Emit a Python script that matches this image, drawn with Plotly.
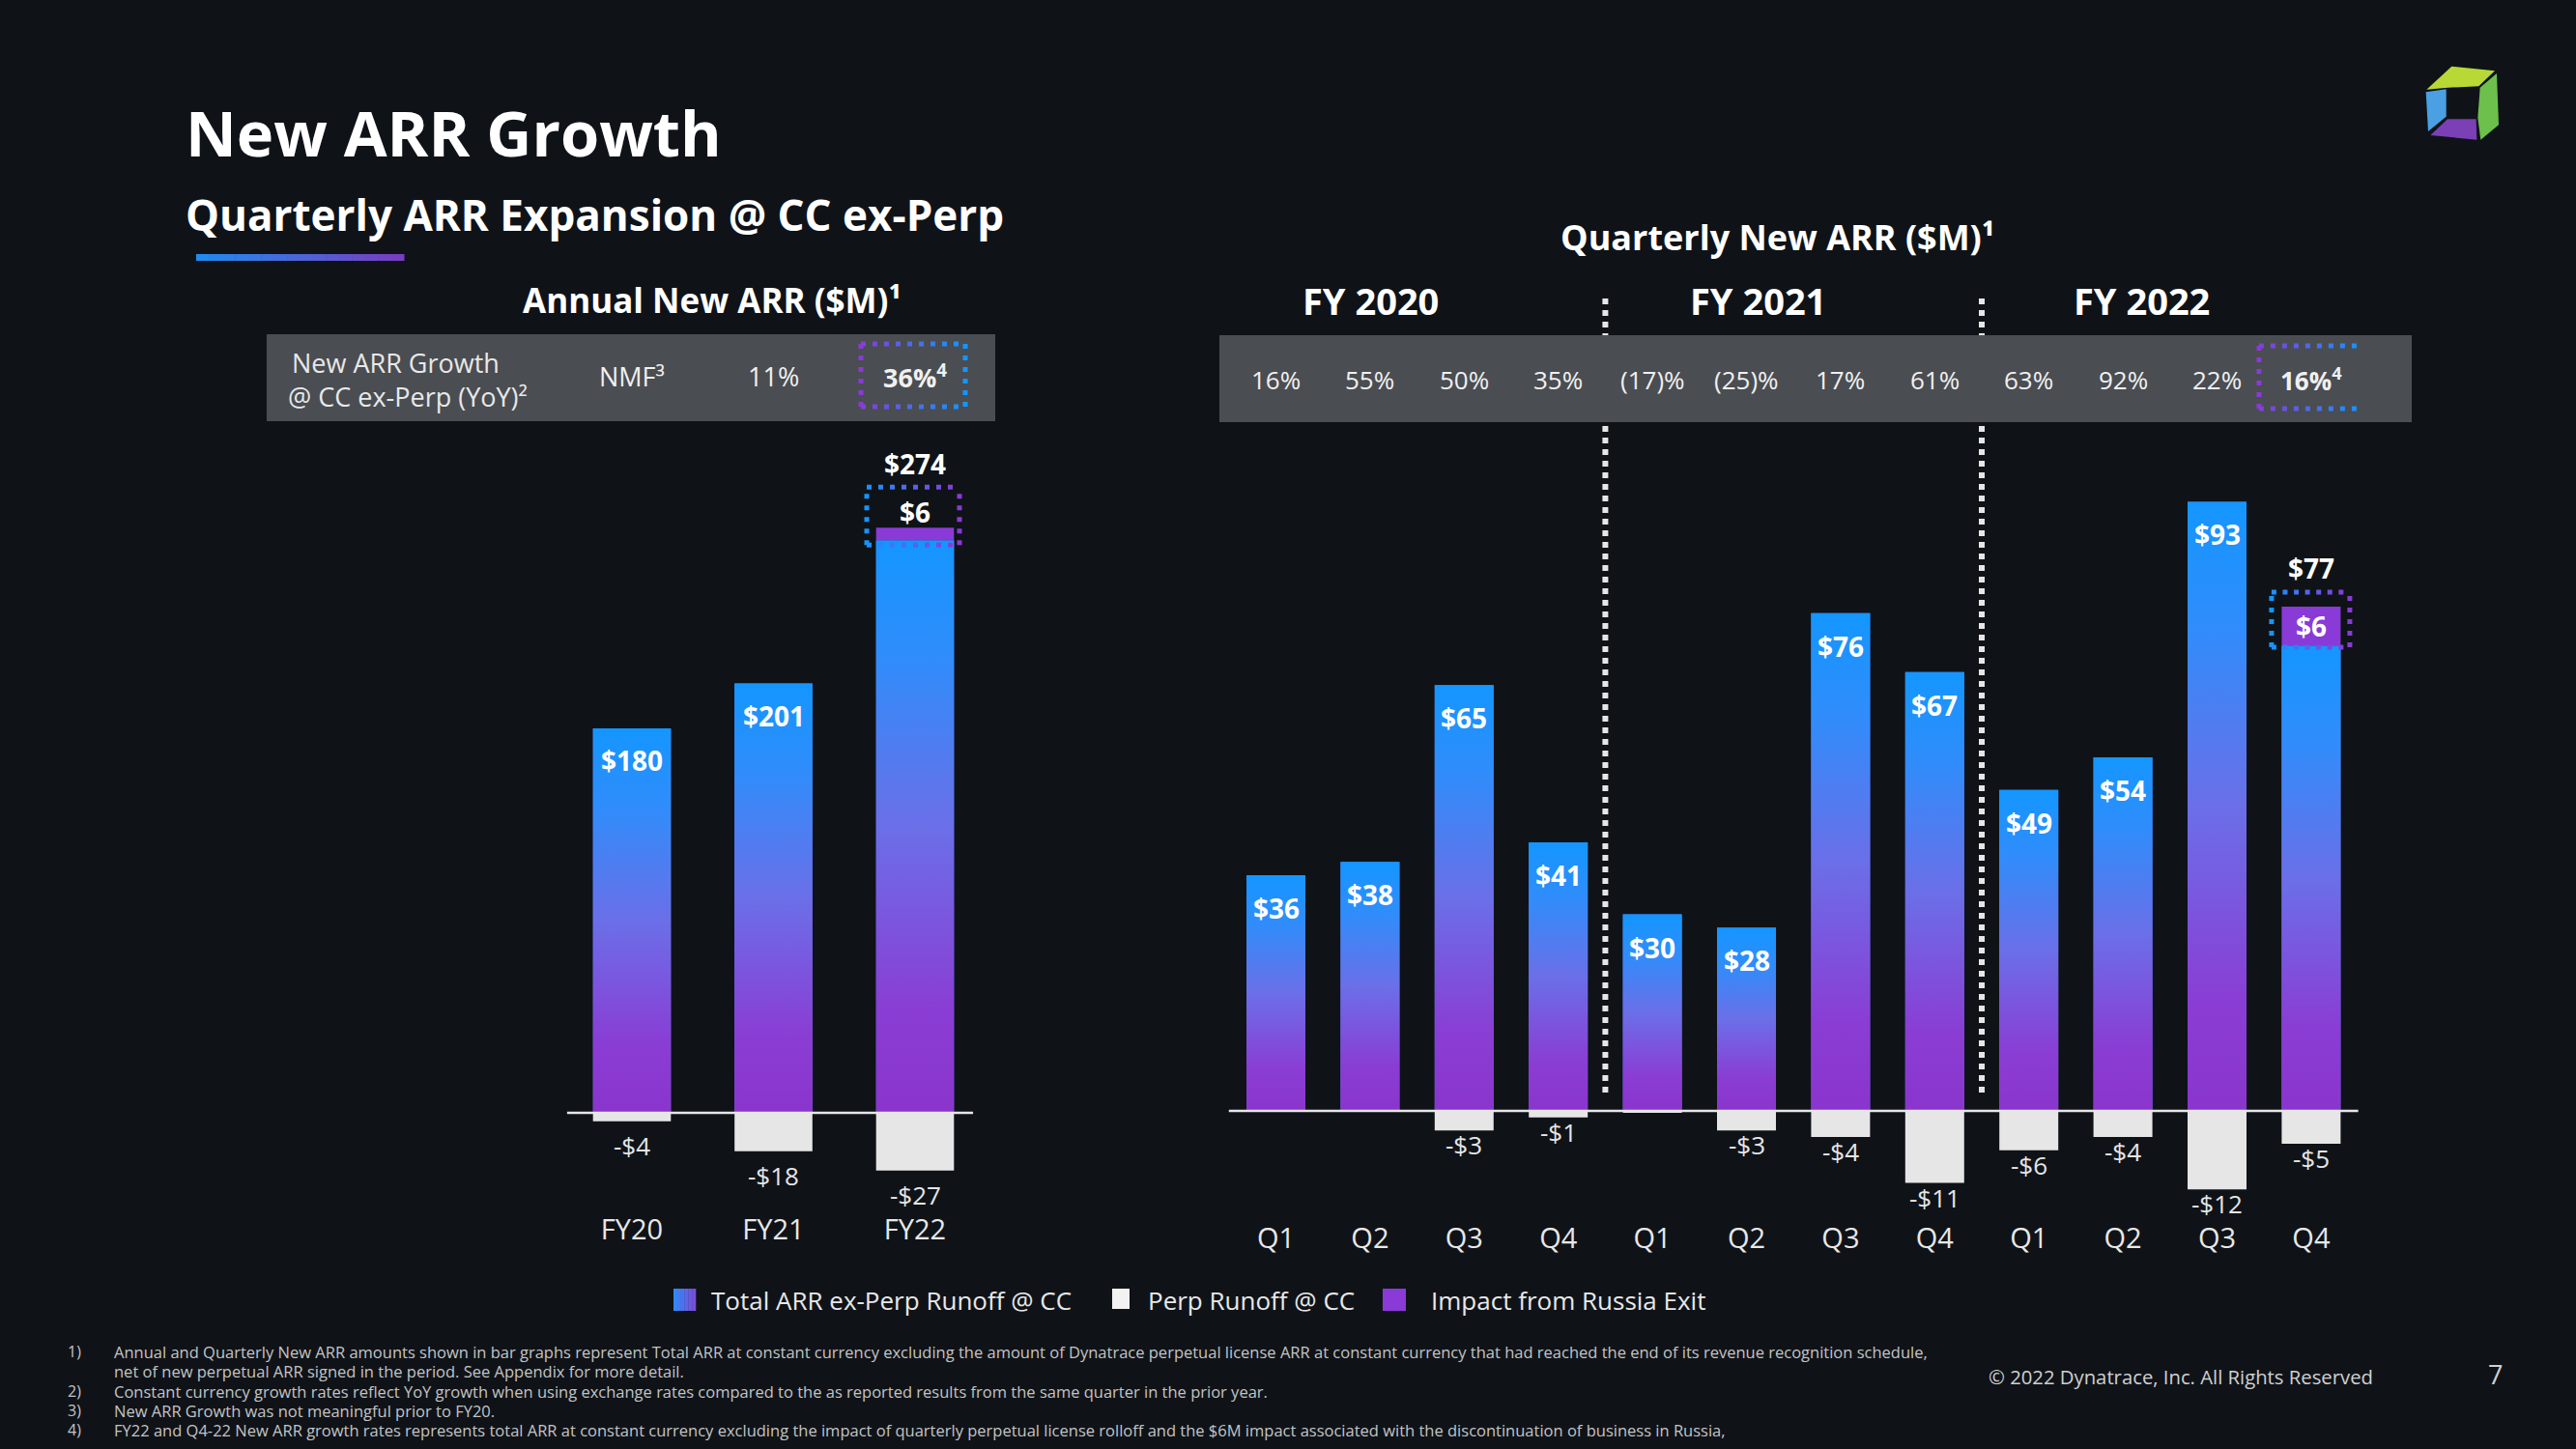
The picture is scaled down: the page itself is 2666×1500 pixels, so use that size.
import plotly.graph_objects as go

# ---------------- data ----------------
annual_years = ["FY20", "FY21", "FY22"]
annual_ex_perp = [180, 201, 268]
annual_russia = [0, 0, 6]
annual_perp = [-4, -18, -27]
annual_growth = ["NMF³", "11%", "<b>36%<sup>4</sup></b>"]

quarters = ["Q1", "Q2", "Q3", "Q4", "Q1", "Q2", "Q3", "Q4", "Q1", "Q2", "Q3", "Q4"]
fiscal_years = ["FY 2020", "FY 2021", "FY 2022"]
q_ex_perp = [36, 38, 65, 41, 30, 28, 76, 67, 49, 54, 93, 71]
q_russia = [0, 0, 0, 0, 0, 0, 0, 0, 0, 0, 0, 6]
q_perp = [0, 0, -3, -1, -0.3, -3, -4, -11, -6, -4, -12, -5]
q_growth = ["16%", "55%", "50%", "35%", "(17)%", "(25)%", "17%", "61%",
            "63%", "92%", "22%", "<b>16%<sup>4</sup></b>"]

legend_names = ["Total ARR ex-Perp Runoff @ CC", "Perp Runoff @ CC", "Impact from Russia Exit"]

footnotes = [
    ("1)", "Annual and Quarterly New ARR amounts shown in bar graphs represent Total ARR at constant currency excluding the amount of Dynatrace perpetual license ARR at constant currency that had reached the end of its revenue recognition schedule,"),
    ("", "net of new perpetual ARR signed in the period. See Appendix for more detail."),
    ("2)", "Constant currency growth rates reflect YoY growth when using exchange rates compared to the as reported results from the same quarter in the prior year."),
    ("3)", "New ARR Growth was not meaningful prior to FY20."),
    ("4)", "FY22 and Q4-22 New ARR growth rates represents total ARR at constant currency excluding the impact of quarterly perpetual license rolloff and the $6M impact associated with the discontinuation of business in Russia,"),
]

# ---------------- style ----------------
W, H = 2666, 1500
BG = "#0f1318"
BLUE = "#1496ff"
PURPLE = "#8a3ad6"
NEG = "#e6e6e6"
TXT = "#ffffff"
SOFT = "#e8e8e8"
BAND = "#4a4d52"
FONT = "Open Sans"
GRAD = [[0, "#8a35cd"], [0.18, "#8a3dd4"], [0.5, "#6b6fe8"], [0.8, "#2f8dfb"], [1, "#1496ff"]]


def px(x):
    return x / W


def py(y):
    return 1 - y / H


def hex2rgb(c):
    c = c.lstrip("#")
    return [int(c[i:i + 2], 16) for i in (0, 2, 4)]


def lerp(c1, c2, t):
    a, b = hex2rgb(c1), hex2rgb(c2)
    return "rgb(%d,%d,%d)" % tuple(round(a[i] + (b[i] - a[i]) * t) for i in range(3))


# geometry (pixels)
L_BASE, L_K, L_RANGE = 1152, 2.211, [-40, 300]
R_BASE, R_K, R_RANGE = 1150, 6.78, [-15, 100]
L_C0, L_STEP = 654, 146.5
R_C0, R_STEP = 1320.5, 97.4
L_W, R_W = 0.55, 0.626


def ydom(base, k, rng):
    return [py(base - rng[0] * k), py(base - rng[1] * k)]


def xdom(c0, step, n):
    left = c0 - step / 2
    return [px(left), px(left + n * step)]


fig = go.Figure()
annotations = []
shapes = []


def ann(x, y, text, size, color=TXT, xref="paper", yref="paper", xanchor="center",
        yanchor="middle", yshift=0, family=FONT, align="center"):
    annotations.append(dict(x=x, y=y, xref=xref, yref=yref, text=text, showarrow=False,
                            font=dict(family=family, size=size, color=color),
                            xanchor=xanchor, yanchor=yanchor, yshift=yshift, align=align))


def add_chart(xa, ya, cats, ex, rus, perp, width, inside_shift, neg_shift):
    xs = list(range(len(cats)))
    fig.add_trace(go.Bar(x=xs, y=ex, width=width, marker=dict(color="#5a78ee", line=dict(width=0)),
                         xaxis=xa, yaxis=ya, name=legend_names[0], showlegend=False, hoverinfo="skip"))
    fig.add_trace(go.Bar(x=xs, y=rus, width=width, marker=dict(color=PURPLE, line=dict(width=0)),
                         xaxis=xa, yaxis=ya, name=legend_names[2], showlegend=False, hoverinfo="skip"))
    fig.add_trace(go.Bar(x=xs, y=perp, width=width, marker=dict(color=NEG, line=dict(width=0)),
                         xaxis=xa, yaxis=ya, name=legend_names[1], showlegend=False, hoverinfo="skip"))
    for i, v in enumerate(ex):
        fig.add_trace(go.Scatter(
            x=[i - width / 2, i + width / 2, i + width / 2, i - width / 2, i - width / 2],
            y=[0, 0, v, v, 0], mode="lines", line=dict(width=0), fill="toself",
            fillgradient=dict(type="vertical", colorscale=GRAD),
            xaxis=xa, yaxis=ya, showlegend=False, hoverinfo="skip"))
    xr = "x" if xa == "x" else "x2"
    yr = "y" if ya == "y" else "y2"
    for i, v in enumerate(ex):
        if rus[i] == 0:
            ann(i, v, "<b>$%d</b>" % v, 28, xref=xr, yref=yr, yshift=inside_shift)
    for i, v in enumerate(perp):
        if abs(v) >= 1:
            ann(i, v, "-$%d" % abs(v), 26, color=NEG, xref=xr, yref=yr, yshift=neg_shift)


add_chart("x", "y", annual_years, annual_ex_perp, annual_russia, annual_perp, L_W, -33, -25)
add_chart("x2", "y2", quarters, q_ex_perp, q_russia, q_perp, R_W, -34, -15)

# totals and Russia labels
for i, r in enumerate(annual_russia):
    if r:
        tot = annual_ex_perp[i] + r
        ann(i, tot, "<b>$%d</b>" % tot, 28, xref="x", yref="y", yshift=66)
        ann(i, tot, "<b>$%d</b>" % r, 28, xref="x", yref="y", yshift=16)
for i, r in enumerate(q_russia):
    if r:
        tot = q_ex_perp[i] + r
        ann(i, tot, "<b>$%d</b>" % tot, 28, xref="x2", yref="y2", yshift=40)
        ann(i, q_ex_perp[i] + r / 2, "<b>$%d</b>" % r, 28, xref="x2", yref="y2")

# baselines
shapes.append(dict(type="line", xref="x domain", yref="y", x0=0.014, x1=0.97, y0=0, y1=0,
                   line=dict(color="#e6e6e6", width=2.5), layer="above"))
shapes.append(dict(type="line", xref="x2 domain", yref="y2", x0=0, x1=1, y0=0, y1=0,
                   line=dict(color="#e6e6e6", width=2.5), layer="above"))

# fiscal-year dividers
for xd in (3.5, 7.5):
    shapes.append(dict(type="line", xref="x2", yref="paper", x0=xd, x1=xd, y0=py(1131), y1=py(303),
                       line=dict(color="#e6e6e6", width=6, dash="6px,6px"), layer="below"))

# growth bands
shapes.append(dict(type="rect", xref="paper", yref="paper", x0=px(276), x1=px(1030), y0=py(436), y1=py(346),
                   fillcolor=BAND, line=dict(width=0), layer="below"))
shapes.append(dict(type="rect", xref="paper", yref="paper", x0=px(1262), x1=px(2496), y0=py(437), y1=py(347),
                   fillcolor=BAND, line=dict(width=0), layer="below"))


def dotted_box(xref, xc, dx0, dx1, yref, y0, y1, c_left, c_right, yanchor=None, width=5):
    common = dict(type="line", xref=xref, xsizemode="pixel", xanchor=xc, yref=yref, layer="above")
    if yanchor is not None:
        common.update(ysizemode="pixel", yanchor=yanchor)
    dash = "5px,7px"
    shapes.append(dict(common, x0=dx0, x1=dx0, y0=y0, y1=y1, line=dict(color=c_left, width=width, dash=dash)))
    shapes.append(dict(common, x0=dx1, x1=dx1, y0=y0, y1=y1, line=dict(color=c_right, width=width, dash=dash)))
    n = max(1, round((dx1 - dx0) / 12))
    for k in range(n):
        a = dx0 + (dx1 - dx0) * k / n
        b = dx0 + (dx1 - dx0) * (k + 1) / n
        col = lerp(c_left, c_right, (k + 0.5) / n)
        for yy in (y0, y1):
            shapes.append(dict(common, x0=a, x1=b, y0=yy, y1=yy, line=dict(color=col, width=width, dash=dash)))


# highlight boxes
dotted_box("x", 2, -56, 52, "paper", py(421), py(356), PURPLE, BLUE)
dotted_box("x2", 11, -54, 54, "paper", py(423), py(358), PURPLE, BLUE)
dotted_box("x", 2, -50, 46, "y", -18, 42, BLUE, PURPLE, yanchor=annual_ex_perp[2] + annual_russia[2])
dotted_box("x2", 11, -41, 40, "y2", -42, 15, BLUE, PURPLE, yanchor=q_ex_perp[11] + q_russia[11])

# band texts
ann(px(300), py(375), "New ARR Growth", 27, color=SOFT, xanchor="left")
ann(px(296), py(410), "@ CC ex-Perp (YoY)²", 27, color=SOFT, xanchor="left")
for i, g in enumerate(annual_growth):
    ann(i, py(389), g, 27, color="#f0f0f0", xref="x")
for i, g in enumerate(q_growth):
    ann(i, py(393), g, 26, color="#f0f0f0", xref="x2")

# headings
ann(px(190), py(137), "<b>New ARR Growth</b>", 65, xanchor="left")
ann(px(190), py(222), "<b>Quarterly ARR Expansion @ CC ex-Perp</b>", 44, xanchor="left")
ann(px(737), py(310), "<b>Annual New ARR ($M)¹</b>", 35)
ann(px(1839), py(245), "<b>Quarterly New ARR ($M)¹</b>", 36)
for xpos, fy in zip((1.01, 5.12, 9.2), fiscal_years):
    ann(xpos, py(311), "<b>%s</b>" % fy, 38, xref="x2")

# gradient underline under subtitle
nu = 16
for k in range(nu):
    x0 = 203 + (418 - 203) * k / nu
    x1 = 203 + (418 - 203) * (k + 1) / nu + 0.5
    shapes.append(dict(type="rect", xref="paper", yref="paper", x0=px(x0), x1=px(x1), y0=py(270), y1=py(263),
                       fillcolor=lerp("#1e8cf0", "#7a3cc0", (k + 0.5) / nu), line=dict(width=0), layer="above"))

# legend
nl = 6
for k in range(nl):
    x0 = 697 + 23 * k / nl
    x1 = 697 + 23 * (k + 1) / nl + 0.3
    shapes.append(dict(type="rect", xref="paper", yref="paper", x0=px(x0), x1=px(x1), y0=py(1357), y1=py(1334),
                       fillcolor=lerp("#2f8dfb", "#7c4ad8", (k + 0.5) / nl), line=dict(width=0), layer="above"))
shapes.append(dict(type="rect", xref="paper", yref="paper", x0=px(1151), x1=px(1169), y0=py(1355), y1=py(1334),
                   fillcolor="#f2f2f2", line=dict(width=0), layer="above"))
shapes.append(dict(type="rect", xref="paper", yref="paper", x0=px(1431), x1=px(1455), y0=py(1357), y1=py(1334),
                   fillcolor=PURPLE, line=dict(width=0), layer="above"))
for xl, name in zip((734, 1186, 1479), legend_names):
    ann(px(xl), py(1346), name, 26, color=SOFT, xanchor="left")

# footnotes
for (num, txt), yy in zip(footnotes, (1399, 1419, 1440, 1460, 1480)):
    if num:
        ann(px(68), py(yy), num, 16, color="#c4c4c4", xanchor="left")
    ann(px(116), py(yy), txt, 16.5, color="#c4c4c4", xanchor="left")
ann(px(2056), py(1425), "© 2022 Dynatrace, Inc. All Rights Reserved", 20.3, color="#d0d0d0", xanchor="left")
ann(px(2582), py(1422), "7", 27, color="#d0d0d0")


# logo (cube) drawn as paths
def logo_path(pts):
    coords = [(px(2450 + zx / 3), py(40 + zy / 3)) for zx, zy in pts]
    return "M " + " L ".join("%.5f,%.5f" % c for c in coords) + " Z"


logo_faces = [
    ([(184, 158), (262, 86), (396, 100), (346, 148), (250, 152)], "#b8d836"),
    ([(402, 108), (408, 268), (352, 314), (343, 246), (350, 152)], "#6cc04b"),
    ([(182, 166), (245, 157), (245, 242), (189, 288)], "#4aa0e2"),
    ([(196, 300), (249, 250), (338, 250), (340, 314)], "#7b3fb6"),
]
for pts, col in logo_faces:
    shapes.append(dict(type="path", xref="paper", yref="paper", path=logo_path(pts),
                       fillcolor=col, line=dict(width=0), layer="above"))

axis_common = dict(showgrid=False, zeroline=False, showline=False, ticks="", fixedrange=True)
fig.update_layout(
    width=W, height=H, autosize=False,
    margin=dict(l=0, r=0, t=0, b=0, pad=0),
    paper_bgcolor=BG, plot_bgcolor=BG,
    barmode="relative", showlegend=False,
    xaxis=dict(axis_common, domain=xdom(L_C0, L_STEP, 3), range=[-0.5, 2.5], anchor="y",
               tickvals=list(range(3)), ticktext=annual_years, ticklabelstandoff=13,
               tickfont=dict(family=FONT, size=29, color=SOFT)),
    yaxis=dict(axis_common, domain=ydom(L_BASE, L_K, L_RANGE), range=L_RANGE, anchor="x", visible=False),
    xaxis2=dict(axis_common, domain=xdom(R_C0, R_STEP, 12), range=[-0.5, 11.5], anchor="y2",
                tickvals=list(range(12)), ticktext=quarters, ticklabelstandoff=10,
                tickfont=dict(family=FONT, size=29, color=SOFT)),
    yaxis2=dict(axis_common, domain=ydom(R_BASE, R_K, R_RANGE), range=R_RANGE, anchor="x2", visible=False),
    annotations=annotations,
    shapes=shapes,
)

fig.write_html("out.html")
